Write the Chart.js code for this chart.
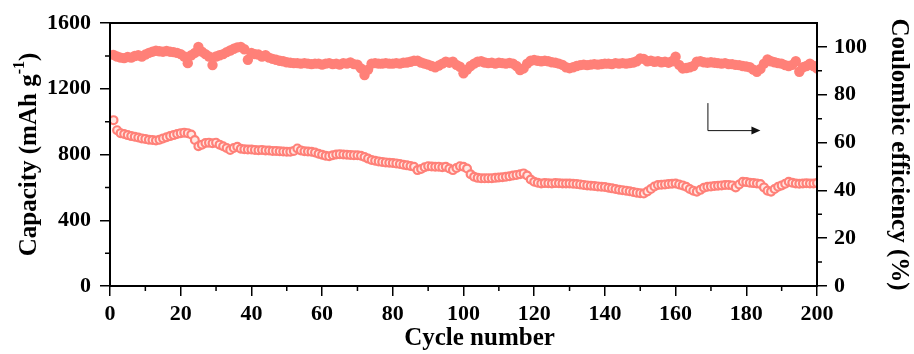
<!DOCTYPE html>
<html>
<head>
<meta charset="utf-8">
<script src="https://cdn.jsdelivr.net/npm/chart.js@4.4.1/dist/chart.umd.min.js"></script>
<style>
  html, body { margin: 0; padding: 0; background: #fff; }
  #wrap { width: 914px; height: 354px; }
</style>
</head>
<body>
<div id="wrap"><canvas id="chart" width="914" height="354"></canvas></div>
<script>
// cycle index (x categories)
const cycles = Array.from({ length: 200 }, (_, i) => i + 1);

// discharge capacity, mAh g-1 (left axis)
const capacity = [
  1009, 948, 930, 925, 918, 912, 908, 903, 898, 895,
  890, 888, 885, 890, 898, 905, 912, 918, 925, 930,
  933, 930, 922, 888, 850, 860, 870, 872, 868, 872,
  860, 850, 840, 828, 840, 847, 835, 832, 830, 830,
  828, 826, 828, 825, 824, 822, 822, 820, 818, 817,
  817, 822, 837, 825, 820, 818, 817, 812, 805, 798,
  792, 790, 795, 800, 802, 800, 798, 797, 796, 795,
  792, 785, 775, 766, 762, 758, 755, 752, 750, 748,
  746, 742, 738, 734, 730, 725, 705, 712, 722, 729,
  727, 725, 726, 722, 725, 715, 705, 718, 729, 725,
  715, 680, 665, 658, 655, 655, 656, 656, 658, 660,
  662, 665, 668, 672, 676, 680, 685, 672, 648, 634,
  628, 624, 626, 625, 624, 626, 625, 624, 624, 624,
  622, 620, 618, 615, 612, 610, 608, 606, 604, 602,
  598, 594, 590, 586, 583, 580, 576, 572, 568, 565,
  563, 575, 590, 605, 614, 616, 618, 620, 622, 624,
  618, 612, 604, 590, 580, 574, 585, 598, 604, 606,
  608, 610, 612, 614, 615, 612, 600, 618, 634, 632,
  628, 626, 624, 620, 600, 580, 574, 590, 604, 612,
  622, 634, 628, 624, 622, 624, 625, 624, 624, 626
];

// coulombic efficiency, % (right axis)
const efficiency = [
  96.6, 96.0, 95.5, 95.3, 95.8, 95.5, 96.2, 96.5, 96.0, 96.8,
  97.5, 98.0, 98.4, 98.2, 98.0, 98.3, 98.0, 97.8, 97.5, 97.0,
  96.0, 93.2, 96.5, 97.5, 100.0, 98.0, 97.0, 96.0, 92.4, 96.0,
  96.5, 97.0, 97.8, 98.5, 99.2, 99.8, 100.0, 99.0, 94.6, 97.5,
  97.0, 96.8, 96.0, 96.5, 95.5, 95.0, 94.6, 94.2, 94.0, 93.6,
  93.4, 93.2, 93.2, 93.0, 93.2, 93.0, 92.8, 93.0, 93.0, 92.6,
  93.0, 93.2, 92.8, 93.0, 92.6, 93.2, 93.0, 93.5, 92.8, 92.6,
  91.0, 88.2, 90.5, 93.0, 93.2, 93.0, 93.0, 93.2, 93.0, 93.0,
  93.2, 93.0, 93.4, 93.5, 93.8, 94.2, 94.2, 93.5, 93.0, 92.6,
  92.0, 91.5, 92.2, 93.0, 93.8, 93.4, 93.8, 92.5, 91.7, 89.0,
  90.5, 92.0, 93.0, 93.8, 94.0, 93.5, 93.2, 93.4, 93.0, 93.4,
  93.2, 93.0, 93.3, 93.0, 92.0, 90.3, 91.0, 93.0, 94.2, 94.5,
  94.2, 94.0, 94.2, 94.0, 93.6, 93.4, 93.0, 92.5, 91.5, 91.1,
  91.5, 92.0, 92.4, 92.6, 92.4, 92.6, 92.8, 92.6, 92.8, 93.0,
  93.0, 92.8, 93.2, 93.0, 93.2, 93.0, 93.2, 93.5, 94.0, 95.2,
  95.0, 94.0, 94.2, 93.8, 94.0, 93.6, 93.8, 93.4, 94.0, 95.9,
  92.5, 91.0, 91.2, 91.5, 92.0, 93.8, 94.0, 93.6, 93.4, 93.6,
  93.4, 93.2, 93.0, 93.2, 92.8, 92.8, 92.5, 92.4, 92.0, 91.8,
  91.5, 90.5, 89.6, 90.8, 93.0, 94.8, 94.0, 93.6, 93.2, 93.0,
  92.4, 92.0, 92.5, 94.0, 89.6, 91.5, 92.0, 93.0, 92.0, 91.0
];

// axis ranges / tick labels
const xTicks = { min: 0, max: 200, step: 20, minor: 10 };
const capTicks = { min: 0, max: 1600, step: 400, minor: 200 };
const ceTicks = { min: 0, max: 110, step: 20, minor: 10 };
const ceLabels = [0, 20, 40, 60, 80, 100];

// titles drawn by hand (superscript, off-centre x title)
const capTitle = { main: 'Capacity (mAh g', sup: '-1', tail: ')' };
const xTitle = 'Cycle number';

// arrow pointing to the efficiency axis (in data units: cycle, %)
const arrowPath = { x0: 169, x1: 184, yTop: 76.5, yBottom: 65.2 };

const salmon = 'rgb(255,128,120)';
const tickFont = { family: 'Liberation Serif', size: 22, weight: 'bold' };
const titleFont = { family: 'Liberation Serif', size: 25, weight: 'bold' };

// frame, minor ticks, titles and the arrow
const extras = {
  id: 'extras',
  afterDraw(chart) {
    const ctx = chart.ctx;
    const a = chart.chartArea;
    const sx = chart.scales.x, sy = chart.scales.y, sy1 = chart.scales.y1;
    ctx.save();
    ctx.strokeStyle = '#000';
    ctx.lineWidth = 2;
    ctx.strokeRect(a.left, a.top, a.right - a.left, a.bottom - a.top);

    ctx.lineWidth = 1.5;
    ctx.beginPath();
    for (let v = xTicks.min + xTicks.minor; v < xTicks.max; v += xTicks.step) {
      const px = sx.getPixelForValue(v);
      ctx.moveTo(px, a.bottom); ctx.lineTo(px, a.bottom + 5);
    }
    for (let v = capTicks.min + capTicks.minor; v < capTicks.max; v += capTicks.step) {
      const py = sy.getPixelForValue(v);
      ctx.moveTo(a.left, py); ctx.lineTo(a.left - 5, py);
    }
    for (let v = ceTicks.min + ceTicks.minor; v < ceTicks.max; v += ceTicks.step) {
      const py = sy1.getPixelForValue(v);
      ctx.moveTo(a.right, py); ctx.lineTo(a.right + 5, py);
    }
    ctx.stroke();

    const big = 'bold 25px "Liberation Serif"';
    const small = 'bold 16px "Liberation Serif"';
    ctx.fillStyle = '#000';

    // x title, sits a little right of centre in the original
    ctx.font = big;
    ctx.textAlign = 'center';
    ctx.textBaseline = 'alphabetic';
    ctx.fillText(xTitle, (a.left + a.right) / 2 + 16, chart.height - 9);

    // left axis title with superscript
    ctx.save();
    ctx.translate(28, (a.top + a.bottom) / 2);
    ctx.rotate(-Math.PI / 2);
    ctx.textAlign = 'left';
    ctx.font = big;
    const w1 = ctx.measureText(capTitle.main).width;
    const w3 = ctx.measureText(capTitle.tail).width;
    ctx.font = small;
    const w2 = ctx.measureText(capTitle.sup).width;
    let tx = -(w1 + w2 + w3) / 2;
    ctx.font = big;
    ctx.fillText(capTitle.main, tx, 8);
    tx += w1;
    ctx.font = small;
    ctx.fillText(capTitle.sup, tx, -4);
    tx += w2;
    ctx.font = big;
    ctx.fillText(capTitle.tail, tx, 8);
    ctx.restore();

    // arrow
    const ax0 = sx.getPixelForValue(arrowPath.x0);
    const ax1 = sx.getPixelForValue(arrowPath.x1);
    const ayT = sy1.getPixelForValue(arrowPath.yTop);
    const ayB = sy1.getPixelForValue(arrowPath.yBottom);
    ctx.lineWidth = 1;
    ctx.strokeStyle = '#111';
    ctx.beginPath();
    ctx.moveTo(ax0 + 0.5, ayT);
    ctx.lineTo(ax0 + 0.5, ayB + 0.5);
    ctx.lineTo(ax1 - 8, ayB + 0.5);
    ctx.stroke();
    ctx.fillStyle = '#111';
    ctx.beginPath();
    ctx.moveTo(ax1, ayB + 0.5);
    ctx.lineTo(ax1 - 9, ayB - 3.5);
    ctx.lineTo(ax1 - 9, ayB + 4.5);
    ctx.closePath();
    ctx.fill();
    ctx.restore();
  }
};

const ctx = document.getElementById('chart').getContext('2d');
new Chart(ctx, {
  type: 'line',
  data: {
    datasets: [
      {
        label: 'Coulombic efficiency',
        data: cycles.map((c, i) => ({ x: c, y: efficiency[i] })),
        yAxisID: 'y1',
        showLine: false,
        pointRadius: 5.2,
        pointBackgroundColor: salmon,
        pointBorderColor: salmon,
        pointBorderWidth: 0
      },
      {
        label: 'Capacity',
        data: cycles.map((c, i) => ({ x: c, y: capacity[i] })),
        yAxisID: 'y',
        showLine: false,
        pointRadius: 3.9,
        pointBackgroundColor: 'rgb(255,232,228)',
        pointBorderColor: salmon,
        pointBorderWidth: 2.2
      }
    ]
  },
  options: {
    responsive: false,
    animation: false,
    layout: { padding: { top: 23, left: 0, right: 0, bottom: 0 } },
    plugins: { legend: { display: false }, tooltip: { enabled: false } },
    scales: {
      x: {
        type: 'linear',
        min: xTicks.min, max: xTicks.max,
        afterFit: s => { s.height = 68; },
        border: { display: true, color: '#000', width: 2 },
        grid: { drawOnChartArea: false, drawTicks: true, tickLength: 10, color: '#000', lineWidth: 1.5 },
        ticks: { stepSize: xTicks.step, autoSkip: false, maxRotation: 0, color: '#000', font: tickFont, padding: 5,
                 callback: v => String(v) },
        title: { display: false }
      },
      y: {
        position: 'left',
        min: capTicks.min, max: capTicks.max,
        afterFit: s => { s.width = 110; },
        border: { display: true, color: '#000', width: 2 },
        grid: { drawOnChartArea: false, drawTicks: true, tickLength: 10, color: '#000', lineWidth: 1.5 },
        ticks: { stepSize: capTicks.step, autoSkip: false, color: '#000', font: tickFont, padding: 9,
                 callback: v => String(v) },
        title: { display: false }
      },
      y1: {
        position: 'right',
        min: ceTicks.min, max: ceTicks.max,
        afterFit: s => { s.width = 97; },
        afterBuildTicks: s => { s.ticks = ceLabels.map(v => ({ value: v })); },
        border: { display: true, color: '#000', width: 2 },
        grid: { drawOnChartArea: false, drawTicks: true, tickLength: 10, color: '#000', lineWidth: 1.5 },
        ticks: { autoSkip: false, color: '#000', font: tickFont, padding: 7,
                 callback: v => String(v) },
        title: { display: true, text: 'Coulombic efficiency (%)', color: '#000', font: titleFont, padding: { top: 1, bottom: 0 } }
      }
    }
  },
  plugins: [extras]
});
</script>
</body>
</html>
